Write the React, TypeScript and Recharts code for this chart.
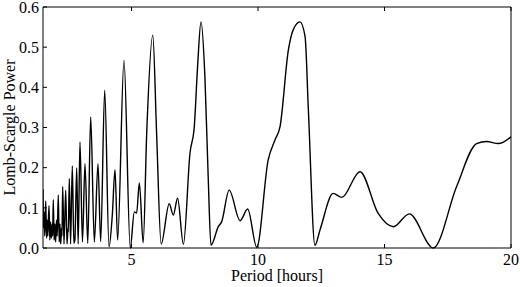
import { LineChart, Line, XAxis, YAxis } from "recharts"

// periodogram: period [hours] and Lomb-Scargle power
const period = [
  1.5, 1.52, 1.545, 1.57, 1.607, 1.64, 1.665, 1.69, 1.737, 1.77, 1.8, 1.83, 1.865, 1.88,
  1.907, 1.94, 1.97, 2.0, 2.035, 2.06, 2.105, 2.14, 2.17, 2.2, 2.235, 2.25, 2.279, 2.33,
  2.397, 2.45, 2.49, 2.5, 2.54, 2.59, 2.658, 2.72, 2.76, 2.832, 2.89, 2.962, 3.06, 3.16,
  3.27, 3.385, 3.53, 3.674, 3.78, 3.939, 4.11, 4.24, 4.346, 4.45, 4.702, 4.95, 5.11, 5.2,
  5.31, 5.46, 5.6, 5.84, 5.99, 6.17, 6.49, 6.65, 6.82, 7.05, 7.31, 7.48, 7.61, 7.745,
  7.9, 8.03, 8.14, 8.43, 8.56, 8.86, 9.29, 9.59, 9.95, 10.4, 10.67, 10.87, 11.2, 11.39,
  11.66, 11.86, 11.99, 12.25, 12.45, 12.97, 13.31, 14.03, 14.75, 15.35, 15.98, 16.93,
  17.85, 18.64, 19.04, 19.5, 20.0,
]
const power = [
  0.146, 0.05, 0.09, 0.03, 0.117, 0.025, 0.07, 0.03, 0.105, 0.02, 0.065, 0.025, 0.06, 0.03,
  0.12, 0.02, 0.06, 0.015, 0.07, 0.03, 0.132, 0.015, 0.06, 0.01, 0.05, 0.03, 0.153, 0.01,
  0.144, 0.01, 0.05, 0.04, 0.173, 0.01, 0.204, 0.012, 0.02, 0.199, 0.01, 0.264, 0.015, 0.21,
  0.012, 0.326, 0.015, 0.21, 0.016, 0.393, 0.003, 0.082, 0.195, 0.02, 0.467, 0.0, 0.09, 0.087,
  0.162, 0.013, 0.287, 0.53, 0.287, 0.01, 0.11, 0.082, 0.124, 0.009, 0.236, 0.302, 0.451, 0.563,
  0.426, 0.177, 0.007, 0.053, 0.065, 0.144, 0.068, 0.097, 0.002, 0.219, 0.269, 0.302, 0.493, 0.543,
  0.563, 0.526, 0.344, 0.007, 0.045, 0.136, 0.126, 0.19, 0.086, 0.053, 0.085, 0.0,
  0.153, 0.26, 0.265, 0.26, 0.277,
]

const xTicks = [5, 10, 15, 20]
const yTicks = [0, 0.1, 0.2, 0.3, 0.4, 0.5, 0.6]

const data = period.map((p, i) => ({ period: p, power: power[i] }))

const font = { fontFamily: "'Liberation Serif', 'Times New Roman', serif", fontSize: 16, fill: "#000" }

export default function App() {
  return (
    <div style={{ position: "absolute", left: 0, top: 0, background: "#fff" }}>
      <LineChart width={520} height={287} data={data} margin={{ top: 0, right: 0, bottom: 0, left: 0 }}>
        <XAxis
          xAxisId="b"
          dataKey="period"
          type="number"
          domain={[1.5, 20]}
          ticks={xTicks}
          interval={0}
          allowDataOverflow
          height={39}
          tickSize={-4}
          tickMargin={10}
          stroke="#000"
          tick={font}
          label={{ value: "Period [hours]", position: "insideBottom", offset: 6, style: font }}
        />
        <XAxis
          xAxisId="t"
          orientation="top"
          dataKey="period"
          type="number"
          domain={[1.5, 20]}
          ticks={xTicks}
          interval={0}
          allowDataOverflow
          height={7}
          tickSize={-4}
          stroke="#000"
          tickFormatter={() => ""}
        />
        <YAxis
          yAxisId="l"
          type="number"
          domain={[0, 0.6]}
          ticks={yTicks}
          interval={0}
          width={43}
          tickSize={-4}
          tickMargin={8}
          stroke="#000"
          tick={font}
          tickFormatter={(v: number) => v.toFixed(1)}
          label={{
            value: "Lomb-Scargle Power",
            angle: -90,
            position: "insideLeft",
            offset: 9,
            style: { ...font, textAnchor: "middle" },
          }}
        />
        <YAxis
          yAxisId="r"
          orientation="right"
          type="number"
          domain={[0, 0.6]}
          ticks={yTicks}
          interval={0}
          width={9}
          tickSize={-4}
          stroke="#000"
          tickFormatter={() => ""}
        />
        <Line
          xAxisId="b"
          yAxisId="l"
          type="monotone"
          dataKey="power"
          stroke="#000"
          strokeWidth={1.4}
          dot={false}
          isAnimationActive={false}
        />
      </LineChart>
    </div>
  )
}
